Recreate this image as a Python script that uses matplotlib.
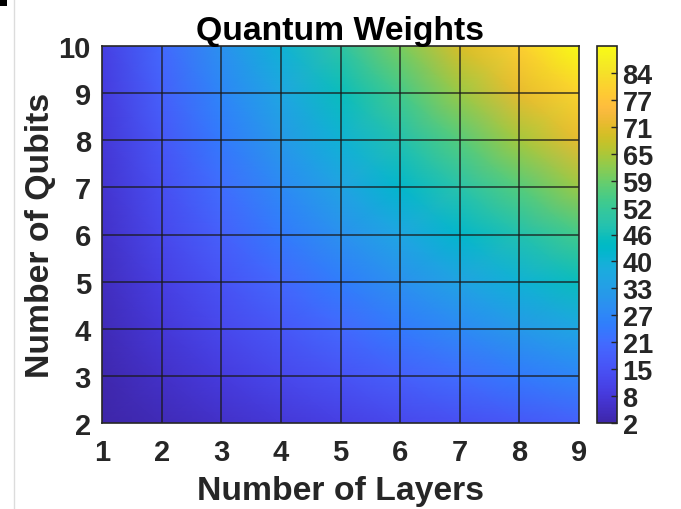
import matplotlib
matplotlib.use("Agg")
import matplotlib.pyplot as plt
import numpy as np
from matplotlib.colors import LinearSegmentedColormap
from matplotlib.patches import Rectangle
from matplotlib.lines import Line2D

# Number of layers (x) and number of qubits (y)
layers = [1, 2, 3, 4, 5, 6, 7, 8, 9]
qubits = [2, 3, 4, 5, 6, 7, 8, 9, 10]

# Weight count for each (qubits, layers) node; rows follow `qubits`, columns follow `layers`
weights = [
    [2, 4, 6, 8, 10, 12, 14, 16, 18],
    [3, 6, 9, 12, 15, 18, 21, 24, 27],
    [4, 8, 12, 16, 20, 24, 28, 32, 36],
    [5, 10, 15, 20, 25, 30, 35, 40, 45],
    [6, 12, 18, 24, 30, 36, 42, 48, 54],
    [7, 14, 21, 28, 35, 42, 49, 56, 63],
    [8, 16, 24, 32, 40, 48, 56, 64, 72],
    [9, 18, 27, 36, 45, 54, 63, 72, 81],
    [10, 20, 30, 40, 50, 60, 70, 80, 90],
]

cbar_labels = ['2', '8', '15', '21', '27', '33', '40', '46', '52', '59', '65', '71', '77', '84']

parula_data = [
    [0.2422, 0.1504, 0.6603], [0.2504, 0.1650, 0.7076], [0.2578, 0.1818, 0.7511],
    [0.2647, 0.1978, 0.7952], [0.2706, 0.2147, 0.8364], [0.2751, 0.2342, 0.8710],
    [0.2783, 0.2559, 0.8991], [0.2803, 0.2782, 0.9221], [0.2813, 0.3006, 0.9414],
    [0.2810, 0.3228, 0.9579], [0.2795, 0.3447, 0.9717], [0.2760, 0.3667, 0.9829],
    [0.2699, 0.3892, 0.9906], [0.2602, 0.4123, 0.9952], [0.2440, 0.4358, 0.9988],
    [0.2206, 0.4603, 0.9973], [0.1963, 0.4847, 0.9892], [0.1834, 0.5074, 0.9798],
    [0.1786, 0.5289, 0.9682], [0.1764, 0.5499, 0.9520], [0.1687, 0.5703, 0.9359],
    [0.1540, 0.5902, 0.9218], [0.1460, 0.6091, 0.9079], [0.1380, 0.6276, 0.8973],
    [0.1248, 0.6459, 0.8883], [0.1113, 0.6635, 0.8763], [0.0952, 0.6798, 0.8598],
    [0.0689, 0.6948, 0.8394], [0.0297, 0.7082, 0.8163], [0.0036, 0.7203, 0.7917],
    [0.0067, 0.7312, 0.7660], [0.0433, 0.7411, 0.7394], [0.0964, 0.7500, 0.7120],
    [0.1408, 0.7584, 0.6842], [0.1717, 0.7670, 0.6554], [0.1938, 0.7758, 0.6251],
    [0.2161, 0.7843, 0.5923], [0.2470, 0.7918, 0.5567], [0.2906, 0.7973, 0.5188],
    [0.3406, 0.8008, 0.4789], [0.3909, 0.8029, 0.4354], [0.4456, 0.8024, 0.3909],
    [0.5044, 0.7993, 0.3480], [0.5616, 0.7942, 0.3045], [0.6174, 0.7876, 0.2612],
    [0.6720, 0.7793, 0.2227], [0.7242, 0.7698, 0.1910], [0.7738, 0.7598, 0.1646],
    [0.8203, 0.7498, 0.1535], [0.8634, 0.7406, 0.1596], [0.9035, 0.7330, 0.1774],
    [0.9393, 0.7288, 0.2100], [0.9728, 0.7298, 0.2394], [0.9956, 0.7434, 0.2371],
    [0.9970, 0.7659, 0.2199], [0.9952, 0.7893, 0.2028], [0.9892, 0.8136, 0.1885],
    [0.9786, 0.8386, 0.1766], [0.9676, 0.8639, 0.1643], [0.9610, 0.8890, 0.1537],
    [0.9597, 0.9135, 0.1423], [0.9628, 0.9373, 0.1265], [0.9691, 0.9606, 0.1064],
    [0.9769, 0.9839, 0.0805],
]
parula = LinearSegmentedColormap.from_list("parula", parula_data, N=256)

plt.rcParams['font.family'] = ['Liberation Sans', 'DejaVu Sans']
plt.rcParams['font.weight'] = 'bold'
text_col = '#262626'

W, H = 681, 510
fig = plt.figure(figsize=(W / 100, H / 100), dpi=100)

ax = fig.add_axes([102 / W, 1 - 424 / H, (579 - 102) / W, (424 - 47) / H])
X, Y = np.meshgrid(layers, qubits)
Z = np.array(weights, dtype=float)
zmin, zmax = Z.min(), Z.max()
mesh = ax.pcolormesh(X, Y, Z, shading='gouraud', cmap=parula, vmin=zmin, vmax=zmax)

# mesh edges
for x in layers[1:-1]:
    ax.axvline(x, color='#1a1a1a', lw=1.1, alpha=0.85)
for y in qubits[1:-1]:
    ax.axhline(y, color='#1a1a1a', lw=1.1, alpha=0.85)

ax.set_xlim(layers[0], layers[-1])
ax.set_ylim(qubits[0], qubits[-1])
ax.set_xticks(layers)
ax.set_yticks(qubits)
ax.tick_params(direction='in', length=0, labelsize=21, colors=text_col)
ax.tick_params(axis='x', pad=11)
ax.tick_params(axis='y', pad=8)
for lab in ax.get_xticklabels() + ax.get_yticklabels():
    lab.set_fontweight('bold')
for sp in ax.spines.values():
    sp.set_color('#262626')
    sp.set_linewidth(1.2)

ax.set_title('Quantum Weights', fontsize=24.3, fontweight='bold', color='black', pad=5)
ax.set_xlabel('Number of Layers', fontsize=24.3, fontweight='bold', color=text_col, labelpad=6)
ax.set_ylabel('Number of Qubits', fontsize=24.3, fontweight='bold', color=text_col, labelpad=2)

# colorbar ticks: evenly spaced over the data range, labelled with rounded values
cbar_ticks = np.linspace(zmin, zmax, len(cbar_labels) + 1)[:-1]
cax = fig.add_axes([597 / W, 1 - 424 / H, 20 / W, (424 - 47) / H])
cb = fig.colorbar(mesh, cax=cax, ticks=cbar_ticks)
cb.outline.set_edgecolor('#262626')
cb.outline.set_linewidth(1.2)
cax.tick_params(direction='in', length=4, width=1, labelsize=19.5, colors=text_col, pad=4)
cax.set_yticklabels(cbar_labels)
for lab in cax.get_yticklabels():
    lab.set_fontweight('bold')

# frame marks at the figure's left edge
fig.add_artist(Rectangle((0, 1 - 7 / H), 7 / W, 7 / H, transform=fig.transFigure,
                         facecolor='black', edgecolor='none'))
fig.add_artist(Line2D([13.5 / W, 13.5 / W], [0, 1], transform=fig.transFigure,
                      color='#dcdcdc', lw=1))

fig.savefig('out.png', dpi=100)
